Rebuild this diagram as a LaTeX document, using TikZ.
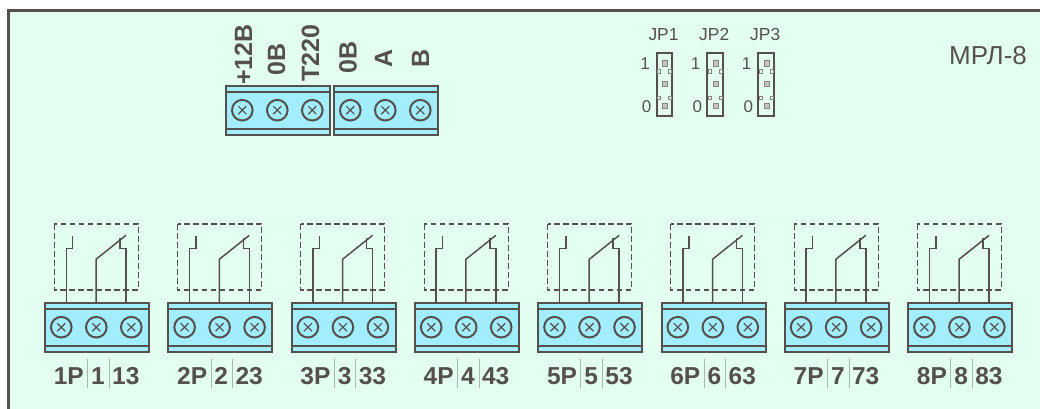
\documentclass[tikz,border=0pt]{standalone}
\usepackage{fontspec}
\setmainfont{Liberation Sans}
\definecolor{bgc}{HTML}{E2FFF2}
\definecolor{ink}{HTML}{55504E}
\definecolor{blockc}{HTML}{A2EEFF}
\definecolor{pinc}{HTML}{C4C4C0}
\definecolor{sepc}{HTML}{A8B8B0}
\newcommand{\Block}[3]{% name, left x, top y
  \begin{scope}[shift={(#2,#3)}]
    \node[blockbox,anchor=north west] (#1) at (0,0) {};
    \draw[railline] (0,-6) -- (104,-6);
    \draw[railline] (0,-42.5) -- (104,-42.5);
    \foreach \i in {1,2,3}{
      \pgfmathsetmacro{\cx}{(\i-1)*35+16.3}
      \node[screwc] (#1s\i) at (\cx,-24.2) {};
      \draw[crossl] (\cx-4,-28.2) -- (\cx+4,-20.2) (\cx-4,-20.2) -- (\cx+4,-28.2);
    }
  \end{scope}}
\newcommand{\Jumper}[2]{% name, center x
  \node[jumpbox] (#1) at (#2,-84.2) {};
  \foreach \y in {-63.3,-84,-106}{\node[pinb] at (#2+.7,\y) {};}
  \foreach \y in {-71.3,-97.7}{\node[pins] at (#2-5.5,\y) {};\node[pins] at (#2+5.5,\y) {};}
  \node[numl] at (#2-19.3,-64) {1};
  \node[numl] at (#2-17.6,-107) {0};
  \node[numl,font=\fontsize{17.4pt}{19pt}\selectfont] at (#2-.8,-34.5) {#1};}
\tikzset{x=1pt,y=1pt,
  blockbox/.style={draw=ink,fill=blockc,line width=2pt,inner sep=0,outer sep=0,minimum width=104pt,minimum height=48.5pt},
  railline/.style={draw=ink,line width=2pt},
  screwc/.style={circle,draw=ink,line width=2pt,minimum size=20.6pt,inner sep=0,outer sep=0,fill=blockc},
  crossl/.style={draw=ink,line width=1.2pt},
  jumpbox/.style={draw=ink,fill=bgc,line width=2pt,minimum width=15.5pt,minimum height=63pt,inner sep=0,outer sep=0},
  pinb/.style={draw=ink!70,fill=pinc,line width=.6pt,minimum size=5.5pt,inner sep=0,outer sep=0},
  pins/.style={draw=ink!70,fill=bgc,line width=.6pt,minimum size=3.2pt,inner sep=0,outer sep=0},
  numl/.style={text=ink,font=\fontsize{17pt}{19pt}\selectfont,inner sep=0},
  toplabel/.style={text=ink,font=\fontsize{25pt}{27pt}\selectfont\bfseries,rotate=90,anchor=base west,inner sep=0},
  botlabel/.style={text=ink,font=\fontsize{24.5pt}{26pt}\selectfont\bfseries,inner sep=0},
  wirel/.style={draw=ink,line width=1.5pt},
  dashb/.style={draw=ink,line width=1.1pt,dash pattern=on 5.6pt off 3.4pt},
  sepl/.style={draw=sepc,line width=.9pt},
}
\begin{document}
\begin{tikzpicture}
\useasboundingbox (0,0) rectangle (1040,-409);
\fill[white] (0,0) rectangle (1040,-409);
\fill[bgc] (8.5,-10.5) rectangle (1040,-409);
\draw[ink,line width=3pt] (8.5,-409) -- (8.5,-10.5) -- (1040,-10.5);
% upper terminals
\Block{ta}{226}{-86}
\Block{tb}{334}{-86}
\foreach \n/\x/\y/\t in {a1/252/-85/{+12В},a2/285/-76/{0В},a3/319/-82/{Т220},b1/356.5/-74/{0В},b2/392/-68/{А},b3/429/-68/{В}}
  \node[toplabel] (l\n) at (\x,\y) {\t};
% jumpers
\Jumper{JP1}{664.3}
\Jumper{JP2}{715}
\Jumper{JP3}{766}
\node[text=ink,font=\fontsize{26pt}{28pt}\selectfont,inner sep=0] (mrl) at (988,-56) {МРЛ-8};
% relays
\foreach \k/\xx in {1/45,2/168.3,3/291.6,4/414.9,5/538.2,6/661.5,7/784.8,8/908.1}{
  \begin{scope}[shift={(\xx,0)}]
    \Block{r\k}{0}{-303}
    \coordinate (p\k a) at (21.3,-303);
    \coordinate (p\k b) at (51,-303);
    \coordinate (p\k c) at (81,-303);
    \draw[wirel,line join=miter] (p\k a) -- (21.3,-248.3) -- (27.7,-248.3) -- (27.7,-236);
    \draw[wirel] (p\k b) -- (51,-259.3) -- (81,-235.3);
    \draw[wirel] (p\k c) -- (81,-248.3) -- (75,-248.3) -- (75,-238);
    \draw[dashb] (9.3,-224) rectangle (93.3,-290);
  \end{scope}
}
\foreach \k/\xx/\a/\b in {1/0/1/13,2/123.3/2/23,3/246.6/3/33,4/369.9/4/43,5/493.2/5/53,6/616.5/6/63,7/739.8/7/73,8/863.1/8/83}{
  \begin{scope}[shift={(\xx,0)}]
    \node[botlabel,anchor=east] (la\k) at (84,-375.7) {\k Р};
    \node[botlabel] (lb\k) at (98,-375.7) {\a};
    \node[botlabel,anchor=west] (lc\k) at (112,-375.7) {\b};
    \draw[sepl] (87.7,-359) -- (87.7,-388);
    \draw[sepl] (109.3,-359) -- (109.3,-388);
  \end{scope}
}
\end{tikzpicture}
\end{document}
